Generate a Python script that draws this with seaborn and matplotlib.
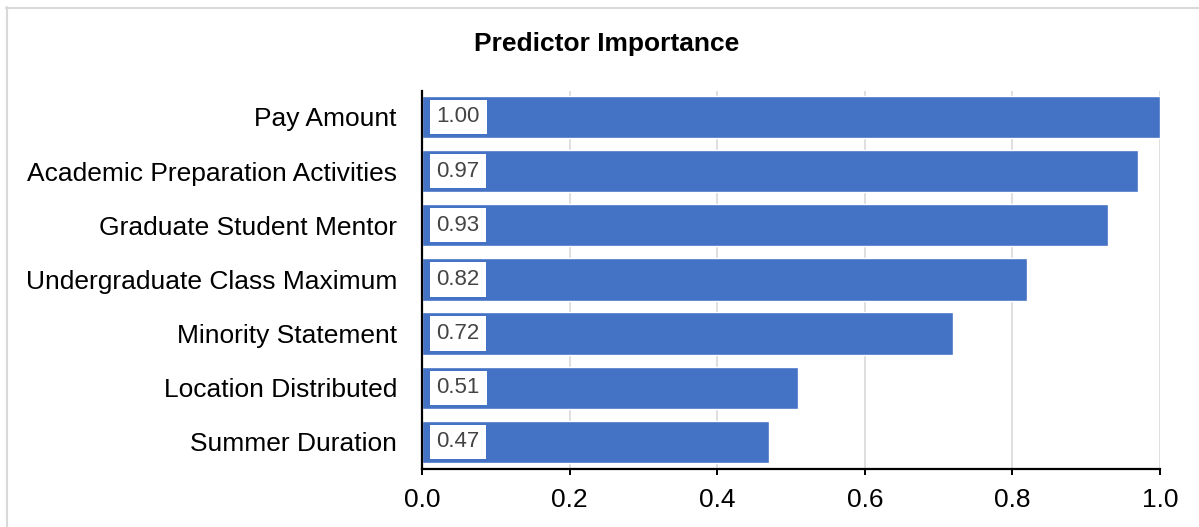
import matplotlib
matplotlib.use("Agg")
import matplotlib.pyplot as plt
import seaborn as sns
import pandas as pd
from matplotlib.lines import Line2D

categories = [
    "Pay Amount",
    "Academic Preparation Activities",
    "Graduate Student Mentor",
    "Undergraduate Class Maximum",
    "Minority Statement",
    "Location Distributed",
    "Summer Duration",
]
importance = [1.00, 0.97, 0.93, 0.82, 0.72, 0.51, 0.47]
x_ticks = [0.0, 0.2, 0.4, 0.6, 0.8, 1.0]
title = "Predictor Importance"

sns.set_theme(style="white")
plt.rcParams["font.family"] = ["Liberation Sans", "DejaVu Sans"]

df = pd.DataFrame({"Predictor": categories, "Importance": importance})

W, H = 1199, 527
fig = plt.figure(figsize=(W / 100, H / 100), dpi=100)
fig.patch.set_facecolor("white")
ax = fig.add_axes([422 / W, 1 - 469 / H, (1160 - 422) / W, (469 - 91) / H])

sns.barplot(data=df, x="Importance", y="Predictor", orient="h", color="#4472C4",
            saturation=1, width=0.78, ax=ax, zorder=2)

ax.set_xlim(0, 1.0)
ax.set_ylim(len(categories) - 0.5, -0.48)
ax.set_xticks(x_ticks)
ax.set_xticklabels([f"{t:.1f}" for t in x_ticks])
ax.set_xlabel("")
ax.set_ylabel("")

ax.grid(axis="x", color="#d9d9d9", linewidth=1.2, zorder=0)
ax.grid(axis="y", visible=False)
ax.set_axisbelow(True)

for s in ["top", "right"]:
    ax.spines[s].set_visible(False)
for s in ["left", "bottom"]:
    ax.spines[s].set_color("black")
    ax.spines[s].set_linewidth(1.6)
    ax.spines[s].set_zorder(3)

ax.tick_params(axis="y", length=0, pad=18, labelsize=19, labelcolor="black")
ax.tick_params(axis="x", length=4.5, width=1.4, color="black", bottom=True,
               pad=9, labelsize=19, labelcolor="black")

for i, v in enumerate(importance):
    ax.annotate(f"{v:.2f}", xy=(0, i), xytext=(10.5, 0), textcoords="offset points",
                ha="left", va="center", fontsize=16, color="#444444", zorder=4,
                bbox=dict(boxstyle="square,pad=0.3", facecolor="white", edgecolor="none"))

fig.text(607 / W, 1 - 44 / H, title, ha="center", va="center",
         fontsize=19, fontweight="bold", color="black")

# outer light border (top and left)
fig.add_artist(Line2D([6 / W, 1.0], [1 - 7.5 / H, 1 - 7.5 / H], transform=fig.transFigure,
                      color="#d9d9d9", linewidth=1.5))
fig.add_artist(Line2D([6.5 / W, 6.5 / W], [0, 1 - 7 / H], transform=fig.transFigure,
                      color="#d9d9d9", linewidth=1.5))

fig.savefig("out.png", dpi=100, facecolor="white")
